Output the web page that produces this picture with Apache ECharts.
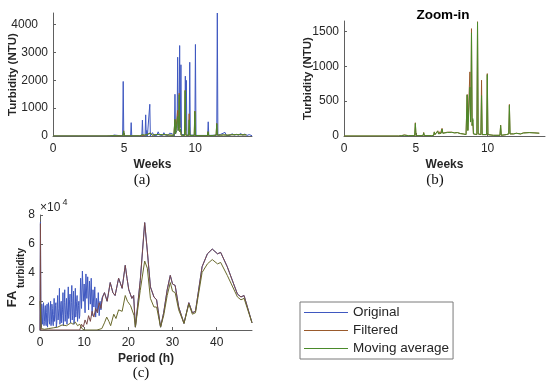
<!DOCTYPE html>
<html><head><meta charset="utf-8">
<script src="https://cdn.jsdelivr.net/npm/echarts@6/dist/echarts.min.js"></script>
<style>html,body{margin:0;padding:0;background:#fff}#c{width:550px;height:390px}</style>
</head><body><div id="c"></div><script>
// ---- tick labels ----
const weekTicks = [0, 5, 10];
const turbTicksA = [0, 1000, 2000, 3000, 4000];
const turbTicksB = [0, 500, 1000, 1500];
const periodTicks = [0, 10, 20, 30, 40];
const faTicks = [0, 2, 4, 6, 8];
const seriesNames = ['Original', 'Filtered', 'Moving average'];

// ---- (a) original turbidity [week, NTU] ----
const originalA = [[0,0],[1.78,0],[1.8,15],[1.82,0],[4.15,0],[4.2,45],[4.25,0],[4.3,35],[4.35,0],[4.9,0],[4.94,1960],[4.98,0],[5.46,0],[5.5,480],[5.54,0],[6.25,0],[6.29,570],[6.33,0],[6.48,0],[6.52,760],[6.56,0],[6.6,200],[6.64,0],[6.77,0],[6.81,1140],[6.85,0],[7.0,120],[7.1,20],[7.2,90],[7.3,20],[7.4,150],[7.5,30],[7.6,80],[7.7,20],[7.8,120],[7.9,30],[8.0,60],[8.1,20],[8.2,100],[8.3,30],[8.4,80],[8.54,0],[8.58,1500],[8.62,100],[8.73,200],[8.77,2830],[8.81,300],[8.87,400],[8.91,3250],[8.95,300],[9.0,2560],[9.04,50],[9.27,50],[9.31,2150],[9.345,200],[9.38,2000],[9.42,30],[9.58,30],[9.62,2650],[9.66,30],[9.98,30],[10.02,3290],[10.06,20],[10.88,20],[10.92,510],[10.96,20],[11.52,30],[11.56,4420],[11.6,30],[11.8,60],[11.9,20],[12.1,130],[12.2,20],[12.3,50],[12.45,20],[12.6,80],[12.75,30],[12.9,60],[13.05,30],[13.2,90],[13.35,30],[13.5,70],[13.65,20],[13.8,50],[14,10]];

// ---- (a)/(b) filtered and moving-average turbidity [week, NTU] ----
const filteredB = [[0,0],[3.8,0],[4.0,5],[4.2,15],[4.24,22],[4.3,10],[4.5,5],[4.93,5],[4.97,190],[5.01,5],[5.51,5],[5.55,50],[5.59,5],[6.1,5],[6.25,10],[6.29,60],[6.33,20],[6.45,30],[6.53,75],[6.58,30],[6.65,60],[6.7,30],[6.79,40],[6.83,110],[6.88,40],[7.0,30],[7.2,55],[7.5,55],[7.7,45],[7.9,50],[8.1,35],[8.3,30],[8.5,20],[8.54,20],[8.58,595],[8.62,80],[8.73,100],[8.77,920],[8.81,200],[8.84,300],[8.88,1540],[8.92,150],[8.97,230],[9.01,30],[9.26,20],[9.30,1640],[9.34,30],[9.54,20],[9.58,800],[9.62,20],[9.94,20],[9.98,895],[10.02,20],[10.4,10],[10.87,10],[10.91,157],[10.95,10],[11.3,20],[11.48,30],[11.52,453],[11.56,30],[11.8,30],[12.0,40],[12.07,60],[12.12,30],[12.3,30],[12.5,45],[12.9,50],[13.3,45],[13.6,40]];
const movingB = [[0,0],[3.8,0],[4.0,5],[4.2,12],[4.24,18],[4.3,10],[4.5,5],[4.92,5],[4.97,180],[5.02,5],[5.5,5],[5.55,45],[5.6,5],[6.1,5],[6.24,10],[6.29,55],[6.34,20],[6.45,30],[6.53,70],[6.59,30],[6.65,55],[6.7,30],[6.78,40],[6.83,100],[6.89,40],[7.0,30],[7.2,50],[7.5,52],[7.7,45],[7.9,48],[8.1,35],[8.3,30],[8.5,20],[8.53,20],[8.58,590],[8.63,80],[8.72,100],[8.77,700],[8.82,200],[8.84,300],[8.88,1480],[8.93,150],[8.97,250],[9.02,30],[9.25,20],[9.30,1630],[9.35,30],[9.53,20],[9.58,580],[9.63,20],[9.93,20],[9.98,880],[10.03,20],[10.4,10],[10.86,10],[10.91,150],[10.96,10],[11.3,20],[11.47,30],[11.52,440],[11.57,30],[11.8,30],[12.0,38],[12.07,55],[12.13,30],[12.3,30],[12.5,43],[12.9,48],[13.3,44],[13.6,40]];

// ---- (c) FA of turbidity [period h, value x1e4] ----
const originalC = [[0,0],[0.1,7.5],[0.2,1.0],[0.3,0.2],[0.4,1.8],[0.5,0.9],[0.6,0.4],[0.7,1.5],[0.8,1.9],[0.9,0.3],[1.0,0.6],[1.1,1.4],[1.2,1.7],[1.3,0.5],[1.4,0.3],[1.5,1.2],[1.6,1.8],[1.7,0.2],[1.8,0.8],[1.9,1.9],[2.0,1.6],[2.1,0.6],[2.2,0.4],[2.3,1.3],[2.4,2.0],[2.5,0.3],[2.6,0.7],[2.7,1.8],[2.8,1.5],[2.9,0.5],[3.0,0.3],[3.1,1.1],[3.2,2.2],[3.3,0.6],[3.4,0.9],[3.5,1.7],[3.6,1.9],[3.7,0.2],[3.8,0.5],[3.9,1.6],[4.0,2.4],[4.1,0.7],[4.2,0.8],[4.3,1.5],[4.4,2.9],[4.5,0.4],[4.6,0.6],[4.7,1.8],[4.8,2.0],[4.9,0.5],[5.0,1.0],[5.1,1.4],[5.2,2.6],[5.3,0.3],[5.4,0.4],[5.5,1.9],[5.6,2.8],[5.7,0.6],[5.8,1.1],[5.9,1.7],[6.0,2.2],[6.1,0.4],[6.2,0.5],[6.3,1.6],[6.4,3.0],[6.5,0.8],[6.6,1.2],[6.7,2.1],[6.8,2.5],[6.9,0.5],[7.0,0.6],[7.1,1.9],[7.2,3.1],[7.3,0.7],[7.4,1.0],[7.5,2.2],[7.6,2.7],[7.7,0.4],[7.8,0.8],[7.9,1.8],[8.0,2.9],[8.1,0.9],[8.2,1.3],[8.3,2.0],[8.4,2.4],[8.5,0.6],[8.6,0.7],[8.7,1.7],[8.8,2.0],[8.9,0.8],[9.0,1.0],[9.2,3.6],[9.4,1.5],[9.6,4.1],[9.8,2.0],[10.0,3.2],[10.2,1.2],[10.4,3.9],[10.6,2.2],[10.8,3.7],[11.0,1.4],[11.2,3.4],[11.4,1.8],[11.6,3.6],[11.8,1.0],[12.0,2.8],[12.2,1.6],[12.4,3.0],[12.6,0.9],[12.8,2.2],[13.0,1.2],[13.2,2.6],[13.4,1.0],[13.6,2.0],[13.8,1.4],[14.0,2.2],[14.6,2.6],[15.2,2.0],[15.9,3.3],[16.5,2.6],[17.0,2.4],[17.8,3.6],[18.6,2.9],[19.3,4.5],[19.7,3.6],[20.1,2.8],[20.8,2.2],[21.2,2.4],[21.6,0.2],[22.7,3.45],[23.7,7.47],[24.3,5.5],[25.0,3.0],[25.8,2.3],[26.4,2.1],[27.3,0.2],[28.0,1.2],[28.8,2.8],[29.5,3.8],[30.0,3.2],[30.6,3.1],[31.4,1.6],[32.6,0.46],[33.7,1.9],[34.5,1.2],[35.2,1.3],[36.7,4.4],[37.9,5.3],[39.0,5.63],[40.2,5.3],[40.9,5.4],[42.4,4.4],[44.7,2.5],[45.5,2.3],[46.2,2.4],[48,0.5]];
const filteredC = [[0,0],[0.1,7.4],[0.2,0],[9.0,0],[9.4,0.4],[9.8,0.2],[10.2,0.7],[10.6,0.4],[11.0,1.0],[11.4,0.6],[11.8,1.3],[12.2,0.9],[12.6,1.5],[13.0,1.2],[13.4,1.9],[13.8,1.5],[14.2,2.3],[14.6,2.6],[15.2,2.0],[15.9,3.3],[16.5,2.6],[17.0,2.4],[17.8,3.6],[18.6,2.9],[19.3,4.5],[19.7,3.6],[20.1,2.8],[20.8,2.2],[21.2,2.4],[21.6,0.2],[22.7,3.45],[23.7,7.47],[24.3,5.5],[25.0,3.0],[25.8,2.3],[26.4,2.1],[27.3,0.2],[28.0,1.2],[28.8,2.8],[29.5,3.8],[30.0,3.2],[30.6,3.1],[31.4,1.6],[32.6,0.46],[33.7,1.9],[34.5,1.2],[35.2,1.3],[36.7,4.4],[37.9,5.3],[39.0,5.63],[40.2,5.3],[40.9,5.4],[42.4,4.4],[44.7,2.5],[45.5,2.3],[46.2,2.4],[48,0.5]];
const movingC = [[0,2.0],[0.3,0.1],[1.0,0.05],[2.0,0.1],[3.0,0.15],[4.0,0.2],[5.0,0.35],[6.0,0.3],[7.0,0.5],[7.5,0.4],[8.0,0.55],[8.5,0.3],[9.0,0.4],[9.5,0.1],[10.0,0],[12.9,0],[14.0,0.1],[14.6,0.5],[15.1,0.9],[15.6,0.6],[16.0,0.3],[16.7,1.1],[17.2,0.8],[17.8,1.4],[18.6,1.3],[19.3,2.4],[19.8,2.0],[20.5,1.7],[21.3,1.0],[21.6,0.2],[22.7,2.76],[23.7,4.8],[24.3,4.3],[25.0,2.2],[25.8,1.6],[26.4,1.6],[27.3,0.2],[28.0,1.0],[28.8,2.4],[29.5,3.3],[30.0,2.7],[30.6,2.6],[31.4,1.4],[32.6,0.46],[33.7,1.8],[34.5,1.1],[35.2,1.2],[36.7,4.0],[37.9,4.6],[39.0,4.9],[40.2,4.6],[40.9,4.7],[42.4,3.8],[44.7,2.3],[45.5,2.1],[46.2,2.2],[48,0.5]];

const colors = ['#3f58c0', '#9a5a2c', '#4a8a2a'];
const FONT = '"Liberation Sans", Arial, sans-serif';
const AX = '#606060', TXT = '#262626';

function xAxis(gi, max, ticks, name, gap) {
  return {
    type: 'value', gridIndex: gi, min: 0, max: max,
    name: name, nameLocation: 'middle', nameGap: gap, nameMoveOverlap: false,
    nameTextStyle: {fontFamily: FONT, fontWeight: 'bold', fontSize: 12, color: TXT},
    axisLine: {show: true, lineStyle: {color: AX, width: 1}},
    axisTick: {show: true, inside: true, length: 3, customValues: ticks, lineStyle: {color: AX}},
    axisLabel: {customValues: ticks, margin: 7, fontFamily: FONT, fontSize: 12, color: TXT, formatter: v => String(v)},
    splitLine: {show: false}
  };
}
function yAxis(gi, max, ticks, name, gap, rich) {
  const o = {
    type: 'value', gridIndex: gi, min: 0, max: max,
    name: name, nameLocation: 'middle', nameGap: gap, nameMoveOverlap: false,
    nameTextStyle: {fontFamily: FONT, fontWeight: 'bold', fontSize: 11.5, color: TXT},
    axisLine: {show: true, lineStyle: {color: AX, width: 1}},
    axisTick: {show: true, inside: true, length: 3, customValues: ticks, lineStyle: {color: AX}},
    axisLabel: {customValues: ticks, margin: 5, fontFamily: FONT, fontSize: 12, color: TXT, formatter: v => String(v)},
    splitLine: {show: false}
  };
  if (rich) { o.axisLabel.formatter = rich.f; o.axisLabel.rich = rich.r; }
  return o;
}
function line(name, xi, data, color, w) {
  return {
    name: name, type: 'line', xAxisIndex: xi, yAxisIndex: xi, data: data,
    showSymbol: false, symbol: 'none', animation: false,
    lineStyle: {color: color, width: w || 1}, itemStyle: {color: color}
  };
}

const chart = echarts.init(document.getElementById('c'), null, {renderer: 'canvas'});
chart.setOption({
  backgroundColor: '#fff',
  animation: false,
  grid: [
    {left: 53, top: 13, width: 199, height: 123},
    {left: 344, top: 21, width: 201, height: 115},
    {left: 40, top: 215, width: 212, height: 115}
  ],
  xAxis: [
    xAxis(0, 14, weekTicks, 'Weeks', 23),
    xAxis(1, 14, weekTicks, 'Weeks', 23),
    xAxis(2, 48, periodTicks, 'Period (h)', 23)
  ],
  yAxis: [
    yAxis(0, 4420, turbTicksA, 'Turbidity (NTU)', 34, {
      f: v => v === 4000 ? '{w|4000}' : String(v),
      r: {w: {fontFamily: FONT, fontSize: 12, color: TXT, padding: [0, 10, 0, 0]}}
    }),
    yAxis(1, 1650, turbTicksB, 'Turbidity (NTU)', 30),
    yAxis(2, 8, faTicks, '', 20)
  ],
  legend: {
    data: seriesNames, orient: 'vertical', left: 300, top: 302,
    backgroundColor: '#fff', borderColor: '#7a7a7a', borderWidth: 1,
    padding: [3, 4, 3, 4], itemGap: 3, itemWidth: 44, itemHeight: 1.2, icon: 'rect',
    textStyle: {fontFamily: FONT, fontSize: 13.5, color: TXT, lineHeight: 15}
  },
  graphic: [
    {type: 'text', position: [443, 15], style: {text: 'Zoom-in', align: 'center', verticalAlign: 'middle', font: 'bold 13.5px ' + FONT, fill: '#000'}},
    {type: 'text', position: [142, 180], style: {text: '(a)', align: 'center', verticalAlign: 'middle', font: '15px "Liberation Serif", serif', fill: '#111'}},
    {type: 'text', position: [435, 180], style: {text: '(b)', align: 'center', verticalAlign: 'middle', font: '15px "Liberation Serif", serif', fill: '#111'}},
    {type: 'text', position: [141, 373], style: {text: '(c)', align: 'center', verticalAlign: 'middle', font: '15px "Liberation Serif", serif', fill: '#111'}},
    {type: 'text', position: [12.5, 299], rotation: Math.PI / 2, style: {text: 'FA', align: 'center', verticalAlign: 'middle', font: 'bold 13px ' + FONT, fill: TXT}},
    {type: 'text', position: [21, 268], rotation: Math.PI / 2, style: {text: 'turbidity', align: 'center', verticalAlign: 'middle', font: 'bold 10px ' + FONT, fill: TXT}},
    {type: 'text', position: [40, 208], style: {text: '×10', align: 'left', verticalAlign: 'middle', font: '12px ' + FONT, fill: TXT}},
    {type: 'text', position: [62.5, 203], style: {text: '4', align: 'left', verticalAlign: 'middle', font: '9px ' + FONT, fill: TXT}}
  ],
  series: [
    line(seriesNames[0], 0, originalA, colors[0]),
    line(seriesNames[1], 0, filteredB, colors[1]),
    line(seriesNames[2], 0, movingB, colors[2]),
    line(seriesNames[1], 1, filteredB, colors[1]),
    line(seriesNames[2], 1, movingB, colors[2]),
    line(seriesNames[0], 2, originalC, colors[0]),
    line(seriesNames[1], 2, filteredC, '#7a4a48'),
    line(seriesNames[2], 2, movingC, '#6a6a2c')
  ]
});
</script></body></html>
